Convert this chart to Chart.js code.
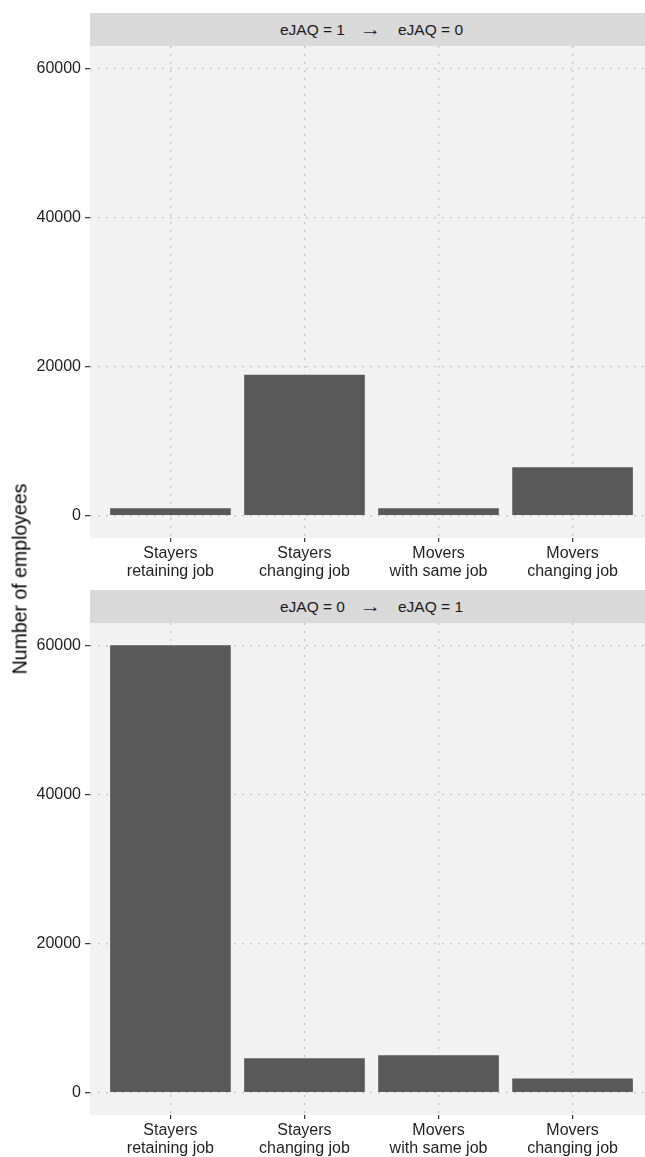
<!DOCTYPE html>
<html>
<head>
<meta charset="utf-8">
<script src="https://cdn.jsdelivr.net/npm/chart.js@4.4.1/dist/chart.umd.min.js"></script>
<style>
  html, body { margin: 0; padding: 0; background: #fff; overflow: hidden; }
  body { width: 645px; height: 1157px; position: relative; font-family: "Liberation Sans", Arial, sans-serif; }
  .strip {
    position: absolute; left: 90px; width: 563px; height: 33px;
    background: #d9d9d9; color: #1a1a1a; font-size: 15.5px;
    display: flex; align-items: center; justify-content: center;
  }
  .strip .arrow { margin: 0 19px 0 17px; font-family: "Liberation Sans", sans-serif; font-size: 17px; font-weight: 300; transform: scaleX(1.25); }
  .panel { position: absolute; left: 0; width: 653px; }
  #ytitle {
    position: absolute; left: 20px; top: 579px; white-space: nowrap;
    font-size: 19.5px; color: #000;
    transform: translate(-50%, -50%) rotate(-90deg);
  }
</style>
</head>
<body>
<div class="strip" id="strip1" style="top:13px"></div>
<div class="panel" style="top:46px;height:544px"><canvas id="chart1"></canvas></div>
<div class="strip" id="strip2" style="top:590px"></div>
<div class="panel" style="top:623px;height:534px"><canvas id="chart2"></canvas></div>
<div id="ytitle">Number of employees</div>
<script>
// data
const categories = [
  ["Stayers", "retaining job"],
  ["Stayers", "changing job"],
  ["Movers", "with same job"],
  ["Movers", "changing job"]
];
const stripFrom = ["eJAQ = 1", "eJAQ = 0"];
const stripTo = ["eJAQ = 0", "eJAQ = 1"];
const valuesTop = [1000, 18900, 1000, 6500];
const valuesBottom = [60000, 4600, 5000, 1900];
const yTicks = [0, 20000, 40000, 60000];
const yLabel = "Number of employees";

const fontFamily = "'Liberation Sans', Arial, sans-serif";
const panelHeight = 492;

// strips
function fillStrip(id, i) {
  const el = document.getElementById(id);
  el.innerHTML = `<span>${stripFrom[i]}</span><span class="arrow">→</span><span>${stripTo[i]}</span>`;
}
fillStrip("strip1", 0);
fillStrip("strip2", 1);
document.getElementById("ytitle").textContent = yLabel;

// panel background
const panelBg = {
  id: "panelBg",
  beforeDraw(chart) {
    const { ctx, chartArea } = chart;
    ctx.save();
    ctx.fillStyle = "#f2f2f2";
    ctx.fillRect(chartArea.left, chartArea.top, chartArea.right - chartArea.left, chartArea.bottom - chartArea.top);
    ctx.restore();
  }
};

function makeChart(canvasId, values, totalHeight) {
  const canvas = document.getElementById(canvasId);
  const ctx = canvas.getContext("2d");

  return new Chart(ctx, {
    type: "bar",
    data: {
      datasets: [{
        data: values.map((v, i) => ({ x: i + 1, y: v })),
        backgroundColor: "#595959",
        borderWidth: 0,
        barPercentage: 0.9,
        categoryPercentage: 1.0
      }]
    },
    options: {
      responsive: true,
      maintainAspectRatio: false,
      animation: false,
      layout: { padding: 0 },
      plugins: {
        legend: { display: false },
        tooltip: { enabled: false }
      },
      scales: {
        x: {
          type: "linear",
          min: 0.4,
          max: 4.6,
          offset: false,
          afterBuildTicks: s => { s.ticks = categories.map((c, i) => ({ value: i + 1 })); },
          afterFit: s => { s.height = totalHeight - panelHeight; s.paddingLeft = 0; s.paddingRight = 0; },
          ticks: {
            callback: v => categories[v - 1],
            color: "#1f1f1f",
            font: { family: fontFamily, size: 16, lineHeight: 1.15 },
            padding: 2,
            maxRotation: 0,
            autoSkip: false
          },
          grid: {
            offset: false,
            color: "#c4c4c4",
            lineWidth: 1.3,
            tickColor: "#333",
            tickLength: 4,
            tickWidth: 1.2
          },
          border: { display: false, dash: [2, 6] }
        },
        y: {
          min: -3000,
          max: 63000,
          afterBuildTicks: s => { s.ticks = yTicks.map(v => ({ value: v })); },
          afterFit: s => { s.width = 90; s.paddingTop = 0; s.paddingBottom = 0; },
          ticks: {
            callback: v => String(v),
            color: "#1f1f1f",
            font: { family: fontFamily, size: 16 },
            padding: 4
          },
          grid: {
            color: "#c4c4c4",
            lineWidth: 1.3,
            tickColor: "#333",
            tickLength: 5,
            tickWidth: 1.2
          },
          border: { display: false, dash: [2, 6] }
        }
      }
    },
    plugins: [panelBg]
  });
}

makeChart("chart1", valuesTop, 544);
makeChart("chart2", valuesBottom, 534);
</script>
</body>
</html>
